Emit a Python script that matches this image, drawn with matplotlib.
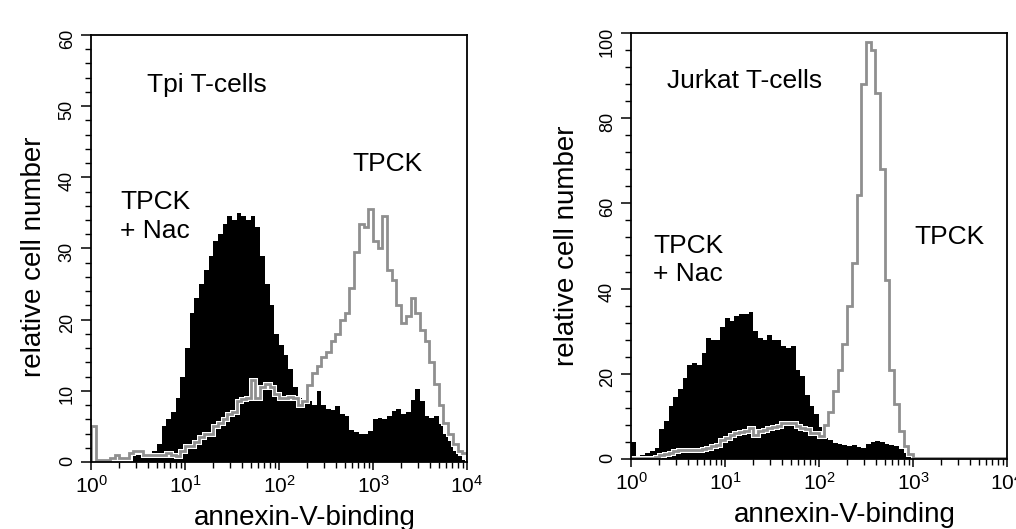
import numpy as np
import matplotlib
matplotlib.use("Agg")
import matplotlib.pyplot as plt
from matplotlib.ticker import LogLocator, LogFormatterMathtext, MultipleLocator
import matplotlib.patheffects as pe

plt.rcParams['font.family'] = ['Liberation Sans', 'DejaVu Sans']
plt.rcParams['mathtext.default'] = 'regular'

# channel edges in log10 units (0.05 decade per channel), 10^0 .. 10^4
log_edges = np.linspace(0, 4, 81)

# Tpi T-cells
tpi_nac = [
    0, 0, 0, 0, 0, 0, 0, 0, 0, 1,
    1, 1, 1, 1.5, 2.5, 5, 6, 7, 9, 12,
    16, 21, 23, 25, 27, 29, 31, 32, 33.5, 34.5,
    34, 35, 34.5, 34, 34.5, 33, 29, 25, 22, 18,
    16.5, 15, 13, 10.5, 9, 8.5, 8.5, 8, 10, 8,
    7.5, 7.3, 7.8, 6.8, 6.5, 4.5, 4.2, 4.0, 4.0, 4.3,
    6, 6.2, 6, 6.5, 7.2, 7.5, 6.8, 7, 8.7, 10.3,
    8.5, 6.4, 6.2, 6.4, 5.4, 4, 3, 1.5, 0.8, 0.3,
]
tpi_tpck = [
    5, 0.3, 0.3, 0.3, 0.5, 1, 0.5, 0.5, 1.2, 1.5,
    1.5, 1, 1, 1, 1, 1, 1.2, 1, 0.8, 1.5,
    2.3, 2.3, 2.8, 3.5, 4, 4, 5, 5.5, 6, 6.7,
    7, 8.6, 8.8, 9, 11.5, 9, 10.5, 11, 10.5, 9.5,
    9, 9, 9.2, 9, 8, 8.5, 10.8, 12.5, 13.5, 14.8,
    15.5, 17, 18, 20, 21, 24.5, 29.5, 33.5, 33, 35.5,
    31, 30, 34.5, 27, 25.5, 22, 19.5, 20.5, 23, 21,
    18.5, 17, 14, 11, 8, 5.5, 4, 2.5, 1.6, 1.3,
]

# Jurkat T-cells
jurkat_nac = [
    4, 0.5, 1, 1.4, 1.8, 2.5, 7, 9, 12.5, 14.5,
    16.5, 19, 22, 22.5, 22, 25, 28.5, 28, 28, 31,
    33, 32.5, 33.5, 34, 34, 34.5, 30, 28.5, 28, 29,
    28, 28, 26.5, 26, 26.5, 21, 19.5, 15, 12.5, 10.5,
    7.5, 5, 4.5, 3.8, 3.5, 3.2, 3, 3.3, 2.8, 2.5,
    3.5, 4, 4.3, 4, 3.6, 3.2, 3, 2.3, 1.5, 0.6,
    0, 0, 0, 0, 0, 0, 0, 0, 0, 0,
    0, 0, 0, 0, 0, 0, 0, 0, 0, 0,
]
jurkat_tpck = [
    0.3, 0.3, 0.3, 0.3, 0.3, 0.5, 1, 1.2, 1.3, 1.8,
    2, 2, 2, 2.2, 2.2, 2.4, 2.6, 3, 3.2, 4.5,
    5, 5.6, 6.2, 6.4, 6.5, 7.2, 5.6, 6.5, 6.8, 7.3,
    7.5, 7.8, 8.4, 8.4, 8.5, 7.8, 7.2, 7, 6.2, 6,
    5.5, 8, 11, 16, 21, 27, 36, 46, 62, 88,
    98, 96, 86, 68, 42, 21, 13, 6.5, 3, 1.2,
    0.3, 0.3, 0.3, 0.3, 0.3, 0.3, 0.3, 0.3, 0.3, 0.3,
    0.3, 0.3, 0.3, 0.3, 0.3, 0.3, 0.3, 0.3, 0.3, 0.3,
]

fig = plt.figure(figsize=(10.16, 5.29), dpi=100)
ax1 = fig.add_axes([0.0896, 0.1267, 0.370, 0.8072])
ax2 = fig.add_axes([0.6211, 0.1323, 0.370, 0.8053])

edges = 10 ** log_edges
gray = '#8f8f8f'


def draw_panel(ax, nac, tpck, ymax, ymajor, yminor, ylab_x, ylab_y):
    ax.stairs(nac, edges, fill=True, color='black', lw=0)
    ax.stairs(tpck, edges, color=gray, lw=2.0,
              path_effects=[pe.withStroke(linewidth=3.6, foreground='white')])
    ax.set_xscale('log')
    ax.set_xlim(1, 1e4)
    ax.set_ylim(0, ymax)
    ax.xaxis.set_major_locator(LogLocator(base=10, numticks=10))
    ax.xaxis.set_minor_locator(LogLocator(base=10, subs=np.arange(2, 10), numticks=10))
    ax.xaxis.set_major_formatter(LogFormatterMathtext())
    ax.yaxis.set_major_locator(MultipleLocator(ymajor))
    ax.yaxis.set_minor_locator(MultipleLocator(yminor))
    ax.tick_params(axis='x', which='major', length=6, width=1.1, labelsize=15, pad=3)
    ax.tick_params(axis='x', which='minor', length=4, width=1.0)
    ax.tick_params(axis='y', which='major', length=7, width=1.1, labelsize=13,
                   labelrotation=90, pad=4)
    ax.tick_params(axis='y', which='minor', length=4, width=1.0)
    for s in ax.spines.values():
        s.set_linewidth(1.3)
    ax.set_ylabel('relative cell number', fontsize=20)
    ax.yaxis.set_label_coords(ylab_x, ylab_y)
    ax.set_xlabel('annexin-V-binding', fontsize=20)
    ax.xaxis.set_label_coords(0.57, -0.10)


draw_panel(ax1, tpi_nac, tpi_tpck, 60, 10, 2, -0.118, 0.48)
draw_panel(ax2, jurkat_nac, jurkat_tpck, 100, 20, 4, -0.137, 0.50)

fs = 19
ax1.text(0.149, 0.883, 'Tpi T-cells', transform=ax1.transAxes, fontsize=fs, va='center')
ax1.text(0.695, 0.698, 'TPCK', transform=ax1.transAxes, fontsize=fs, va='center')
ax1.text(0.077, 0.575, 'TPCK\n+ Nac', transform=ax1.transAxes, fontsize=fs,
         va='center', linespacing=1.25)

ax2.text(0.096, 0.887, 'Jurkat T-cells', transform=ax2.transAxes, fontsize=fs, va='center')
ax2.text(0.755, 0.521, 'TPCK', transform=ax2.transAxes, fontsize=fs, va='center')
ax2.text(0.059, 0.467, 'TPCK\n+ Nac', transform=ax2.transAxes, fontsize=fs,
         va='center', linespacing=1.25)

fig.savefig('out.png', dpi=100)
